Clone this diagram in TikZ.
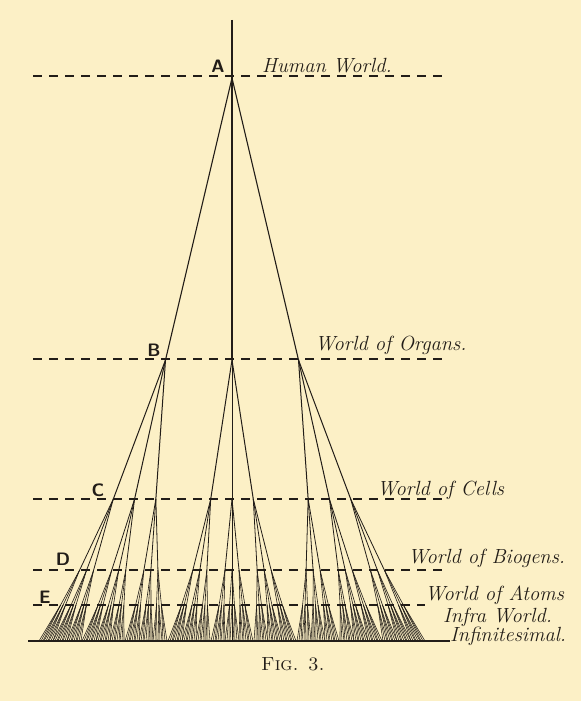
\documentclass[tikz,border=0pt]{standalone}
\definecolor{paper}{RGB}{252,240,198}
\definecolor{ink}{RGB}{34,29,24}
\tikzset{
  worldline/.style={ink, line width=1.3pt, dash pattern=on 9pt off 7pt},
  strand/.style={ink, line width=0.6pt},
  worldtext/.style={ink, font=\fontsize{20.5}{20.5}\selectfont\itshape, anchor=base west, inner sep=0pt},
  letter/.style={ink, font=\fontsize{18}{18}\selectfont\sffamily\bfseries, anchor=base, inner sep=0pt},
}
\begin{document}
\begin{tikzpicture}[x=1pt, y=-1pt]
  % Paper
  \fill[paper] (0,0) rectangle (581,701);

  % Dashed level lines
  \foreach \n/\y/\r in {h/76/445, o/359/445, c/499/445, b/570/447, a/605/425}{
    \coordinate (\n-l) at (33,\y);
    \coordinate (\n-r) at (\r,\y);
    \draw[worldline] (\n-l) -- (\n-r);
  }
  \coordinate (inf-l) at (28,641);
  \coordinate (inf-r) at (450,641);
  \draw[ink, line width=1.6pt] (inf-l) -- (inf-r);

  % The stem and the fans
  \coordinate (top) at (232,20);
  \coordinate (apex) at (232,78);
  \draw[strand, line width=1.1pt] (top) -- (apex);
  \foreach \i in {1,2,3}{
    \pgfmathsetmacro\xb{232+66.5*(\i-2)}
    \coordinate (b\i) at (\xb,360);
    \draw[strand, line width=1.1pt] (apex) -- (b\i);
    \foreach \j in {1,2,3}{
      \pgfmathsetmacro\ta{232+129*(\i-2)+43*(\j-2)}
      \pgfmathsetmacro\xc{\xb+(499-360)/(641-360)*(\ta-\xb)}
      \coordinate (c\i\j) at (\xc,499);
      \draw[strand, line width=1pt] (b\i) -- (c\i\j);
      \foreach \k in {1,2,3}{
        \pgfmathsetmacro\tb{\ta+14*(\k-2)}
        \pgfmathsetmacro\xd{\xc+(570-499)/(641-499)*(\tb-\xc)}
        \coordinate (d\i\j\k) at (\xd,570);
        \draw[strand, line width=0.8pt] (c\i\j) -- (d\i\j\k);
        \foreach \l in {1,2,3}{
          \pgfmathsetmacro\tc{\tb+5*(\l-2)}
          \pgfmathsetmacro\xe{\xd+(605-570)/(641-570)*(\tc-\xd)}
          \coordinate (e\i\j\k\l) at (\xe,605);
          \draw[strand] (d\i\j\k) -- (e\i\j\k\l);
          \foreach \m in {1,2,3}{
            \pgfmathsetmacro\td{\tc+2*(\m-2)}
            \coordinate (f\i\j\k\l\m) at (\td,641);
            \draw[strand, line width=0.55pt] (e\i\j\k\l) -- (f\i\j\k\l\m);
          }
        }
      }
    }
  }

  % Letters
  \node[letter] (la) at (218,73) {A};
  \node[letter] (lb) at (154,356) {B};
  \node[letter] (lc) at (98,496) {C};
  \node[letter] (ld) at (63,565) {D};
  \node[letter] (le) at (45,603) {E};

  % Names of the worlds
  \node[worldtext] (human) at (262,73) {Human World.};
  \node[worldtext] (organs) at (315,350) {World of Organs.};
  \node[worldtext] (cells) at (377,495) {World of Cells};
  \node[worldtext] (biogens) at (408,563) {World of Biogens.};
  \node[worldtext] (atoms) at (425,600) {World of Atoms};
  \node[worldtext] (infra) at (443,622) {Infra World.};
  \node[worldtext] (infin) at (450,641) {Infinitesimal.};

  \node[ink, font=\fontsize{19}{19}\selectfont, anchor=base, inner sep=0pt] (fig) at (293,670) {\textsc{Fig.}\hspace{0.5em}\textsc{3.}};
\end{tikzpicture}
\end{document}
